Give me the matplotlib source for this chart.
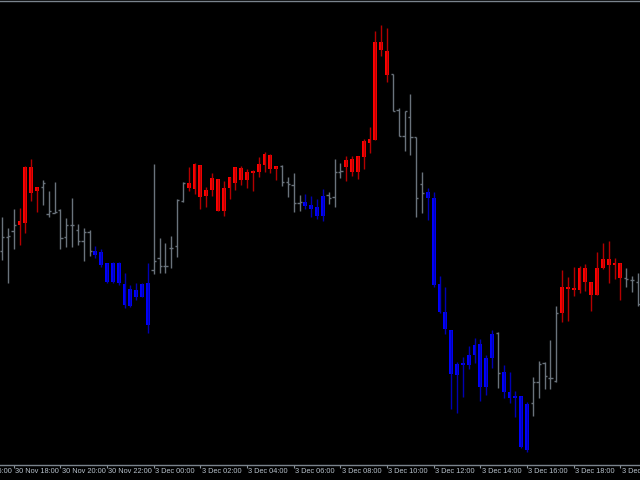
import numpy as np
import matplotlib
matplotlib.use('Agg')
from matplotlib import pyplot as plt
from matplotlib import transforms

# 15 min candles, 30 Nov 17:30 .. 3 Dec 03:15 (weekend gap after idx 25)
opens = [229, 243, 249, 255, 257, 287, 289, 293, 266, 267, 270, 243, 255, 250, 239, 248,
         229, 228, 217, 217, 217, 196, 191, 190, 196, 197, 210, 222, 214, 232, 234, 279,
         292, 291, 283, 284, 290, 269, 269, 292, 297, 300, 300, 307, 308, 315, 311, 311,
         314, 298, 295, 277, 278, 275, 273, 284, 285, 283, 308, 313, 308, 308, 323, 337,
         340, 430, 405, 406, 370, 344, 363, 343, 296, 288, 282, 196, 168, 150, 116, 116,
         125, 135, 136, 122, 146, 147, 108, 88, 84, 84, 76, 77, 98, 117, 102, 99,
         167, 191, 190, 190, 198, 185, 185, 212, 215, 215, 202, 202, 200, 198]
highs = [263, 252, 271, 272, 314, 321, 293, 300, 289, 298, 271, 262, 282, 256, 252, 250,
         234, 231, 217, 218, 218, 207, 195, 197, 197, 217, 316, 242, 237, 244, 281, 298,
         313, 317, 315, 293, 307, 301, 299, 303, 313, 314, 311, 310, 323, 328, 326, 314,
         315, 303, 307, 285, 286, 284, 281, 291, 288, 321, 317, 324, 324, 324, 341, 353,
         449, 455, 452, 406, 372, 369, 386, 343, 308, 292, 288, 204, 193, 150, 118, 123,
         134, 142, 141, 125, 150, 148, 115, 108, 89, 84, 78, 103, 119, 118, 140, 174,
         210, 203, 213, 214, 216, 198, 228, 237, 239, 222, 217, 212, 204, 207]
lows = [220, 197, 231, 235, 247, 279, 268, 275, 263, 267, 231, 233, 233, 235, 219, 224,
        222, 213, 197, 197, 195, 172, 173, 180, 183, 147, 206, 207, 207, 212, 223, 278,
        289, 286, 271, 273, 284, 269, 264, 281, 290, 295, 292, 289, 303, 308, 307, 300,
        294, 283, 268, 269, 271, 263, 261, 259, 276, 273, 302, 299, 304, 301, 311, 327,
        340, 424, 398, 369, 344, 329, 325, 263, 267, 260, 193, 167, 146, 71, 67, 83,
        111, 117, 79, 85, 112, 92, 82, 77, 63, 32, 28, 64, 82, 91, 91, 98,
        158, 159, 184, 187, 189, 169, 185, 211, 197, 201, 180, 193, 188, 174]
closes = [243, 244, 255, 259, 313, 313, 293, 297, 269, 268, 242, 255, 255, 239, 248, 229,
          225, 215, 198, 198, 197, 175, 174, 183, 183, 155, 219, 214, 214, 232, 280, 297,
          297, 316, 315, 290, 302, 301, 292, 303, 313, 312, 308, 309, 316, 326, 325, 314,
          298, 296, 277, 278, 274, 271, 264, 264, 282, 308, 309, 320, 321, 324, 339, 341,
          438, 438, 429, 369, 344, 369, 343, 282, 287, 282, 195, 168, 151, 106, 105, 115,
          115, 125, 93, 93, 122, 107, 88, 82, 82, 33, 30, 98, 116, 104, 102, 167,
          193, 193, 191, 212, 212, 198, 212, 221, 221, 217, 217, 201, 200, 176]
# trend colour: r = up, b = down, g = flat
trend = list("ggg" "rrrr" "gggggggg" "g" "bbbbbbbbbb" "gggggg" "rrrrrrrrrrrrrrrr"
             "gggg" "bbbb" "ggg" "rrrrrrrr" "gggggg" "bbbbbbbbbbbb" "g" "bbbbb"
             "ggggg" "rrrrrrrrrrr" "ggg")

tick_labels = ['30 Nov 16:00', '30 Nov 18:00', '30 Nov 20:00', '30 Nov 22:00',
               '3 Dec 00:00', '3 Dec 02:00', '3 Dec 04:00', '3 Dec 06:00',
               '3 Dec 08:00', '3 Dec 10:00', '3 Dec 12:00', '3 Dec 14:00',
               '3 Dec 16:00', '3 Dec 18:00', '3 Dec 20:00']

body_col = {'r': '#ff0000', 'b': '#0000ff'}
wick_col = {'r': '#b40000', 'b': '#0000b4'}
gray = '#6a737c'

fig = plt.figure(figsize=(6.4, 4.8), dpi=100, facecolor='black')
ax = fig.add_axes([0, 1 - 464.5 / 480, 1, 463 / 480])
ax.set_facecolor('black')

for i in range(len(opens)):
    o, h, l, c, t = opens[i], highs[i], lows[i], closes[i], trend[i]
    if t == 'g':
        ax.vlines(i, l, h, color=gray, lw=1.0)
        ax.hlines(o, i - 0.38, i, color=gray, lw=1.0)
        ax.hlines(c, i, i + 0.38, color=gray, lw=1.0)
    else:
        ax.vlines(i, l, h, color=wick_col[t], lw=1.0)
        lo, hi = min(o, c), max(o, c)
        if hi - lo < 1.5:
            hi = lo + 1.5
        ax.bar(i, hi - lo, bottom=lo, width=0.68, color=body_col[t], lw=0)

ax.set_xlim(-0.343, 109.37)
ax.set_ylim(15.5, 478.5)
ax.set_yticks([])

tick_idx = [-6 + 8 * k for k in range(len(tick_labels))]
ax.set_xticks([p for p in tick_idx if p >= 0])
ax.set_xticklabels([])
ax.tick_params(axis='x', colors='#8a939c', length=2.5, width=0.8, direction='out')

off = ax.transData + transforms.ScaledTranslation(0, -3.5 / 100, fig.dpi_scale_trans)
for p, lab in zip(tick_idx, tick_labels):
    ax.text(p + 0.2, 15.5, lab, color='#b8c2cc', fontsize=5.3,
            ha='left', va='top', clip_on=False,
            transform=off, family='Liberation Sans')

for s in ['left', 'right']:
    ax.spines[s].set_visible(False)
for s in ['top', 'bottom']:
    ax.spines[s].set_color('#7a838c')
    ax.spines[s].set_linewidth(1.0)

fig.savefig('out.png', dpi=100, facecolor='black')
